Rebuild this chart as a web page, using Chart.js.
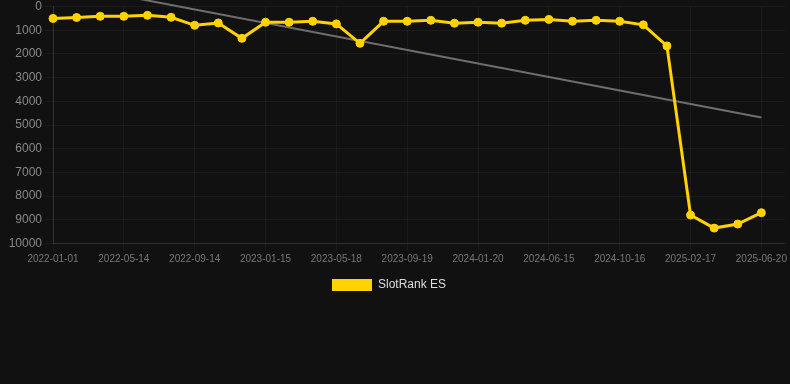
<!DOCTYPE html>
<html>
<head>
<meta charset="utf-8">
<script src="https://cdn.jsdelivr.net/npm/chart.js@4"></script>
<style>
  html, body { margin: 0; padding: 0; background: #111111; }
  #wrap { width: 790px; height: 301px; position: relative; }
</style>
</head>
<body>
<div id="wrap"><canvas id="c"></canvas></div>
<script>
const categories = [
  '2022-01-01','2022-02-14','2022-03-30','2022-05-14','2022-06-24','2022-08-04',
  '2022-09-14','2022-10-25','2022-12-05','2023-01-15','2023-02-25','2023-04-07',
  '2023-05-18','2023-06-28','2023-08-08','2023-09-19','2023-10-30','2023-12-10',
  '2024-01-20','2024-03-06','2024-04-30','2024-06-15','2024-07-26','2024-09-05',
  '2024-10-16','2024-11-26','2025-01-06','2025-02-17','2025-03-30','2025-05-10',
  '2025-06-20',''
];
const rankValues = [
  500, 460, 410, 410, 370, 450, 790, 690, 1340, 660, 660, 620, 730, 1550, 620,
  620, 580, 700, 660, 700, 580, 540, 620, 580, 620, 770, 1660, 8800, 9350, 9180, 8700
];
const trendValues = [-1019, 4680];
const yTicks = [0,1000,2000,3000,4000,5000,6000,7000,8000,9000,10000];

const font = "'Liberation Sans', Arial, sans-serif";
const gridCol = 'rgba(255,255,255,0.045)';

const legendShift = {
  id: 'legendShift',
  afterLayout(chart) { if (chart.legend) chart.legend.right -= 7; }
};

new Chart(document.getElementById('c'), {
  type: 'line',
  data: {
    labels: categories,
    datasets: [
      {
        label: 'SlotRank ES',
        data: rankValues,
        borderColor: '#FFD200',
        backgroundColor: '#FFD200',
        borderWidth: 3,
        pointRadius: 4,
        pointBorderWidth: 1,
        pointHoverRadius: 4,
        pointBackgroundColor: '#FFD200',
        pointBorderColor: '#FFD200',
        tension: 0
      },
      {
        label: 'trend',
        data: [
          { x: categories[0], y: trendValues[0] },
          { x: categories[rankValues.length - 1], y: trendValues[1] }
        ],
        borderColor: '#6e6e6e',
        borderWidth: 2,
        pointRadius: 0,
        clip: false,
        tension: 0
      }
    ]
  },
  plugins: [legendShift],
  options: {
    responsive: true,
    maintainAspectRatio: false,
    animation: false,
    layout: { padding: { left: 0, right: 5, top: 0, bottom: 0 } },
    plugins: {
      legend: {
        position: 'bottom',
        labels: {
          color: '#dddddd',
          font: { family: font, size: 12 },
          boxWidth: 40,
          boxHeight: 12,
          padding: 11.5,
          filter: (item) => item.text !== 'trend',
          generateLabels: (chart) =>
            Chart.defaults.plugins.legend.labels.generateLabels(chart)
              .map(l => Object.assign(l, { lineWidth: 0 }))
        }
      },
      tooltip: { enabled: false }
    },
    scales: {
      x: {
        grid: {
          color: (ctx) => (ctx.index % 3 === 0 && ctx.index < rankValues.length) ? gridCol : 'rgba(0,0,0,0)'
        },
        border: { color: 'rgba(255,255,255,0.1)' },
        ticks: {
          color: '#777777',
          padding: 2,
          font: { family: font, size: 10 },
          maxRotation: 0,
          autoSkip: false,
          callback: function (v, i) { return i % 3 === 0 ? categories[i] : ''; }
        }
      },
      y: {
        reverse: true,
        min: 0,
        max: 10000,
        afterFit: (axis) => { axis.width = 53; },
        afterBuildTicks: (axis) => { axis.ticks = yTicks.map(v => ({ value: v })); },
        grid: { color: gridCol },
        border: { color: 'rgba(255,255,255,0.1)' },
        ticks: {
          color: '#888888',
          font: { family: font, size: 12, lineHeight: 0.6 },
          callback: (v) => String(v)
        }
      }
    }
  }
});
</script>
</body>
</html>
